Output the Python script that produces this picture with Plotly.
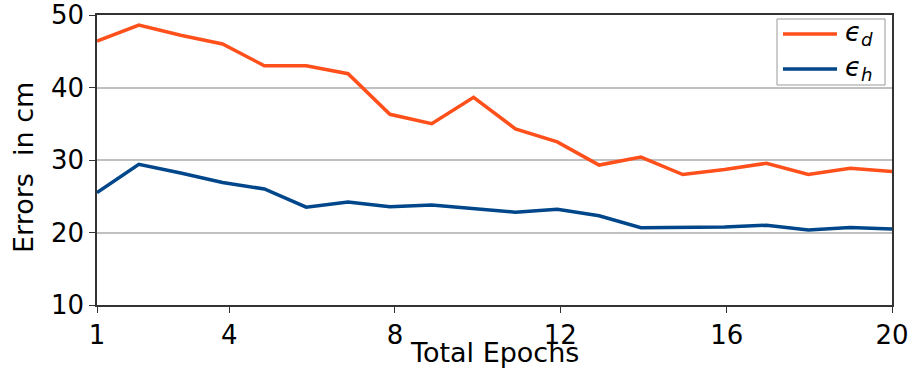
import plotly.graph_objects as go

epochs = list(range(1, 21))
err_d = [46.4, 48.6, 47.2, 46.0, 43.0, 43.0, 41.9, 36.3, 35.0, 38.65,
         34.3, 32.5, 29.3, 30.4, 28.0, 28.7, 29.55, 28.0, 28.85, 28.4]
err_h = [25.5, 29.4, 28.2, 26.9, 26.0, 23.5, 24.2, 23.55, 23.8, 23.3,
         22.8, 23.2, 22.3, 20.65, 20.65, 20.75, 21.0, 20.35, 20.7, 20.5]
series_names = ["<i>ϵ</i><sub><i>d</i></sub>", "<i>ϵ</i><sub><i>h</i></sub>"]
series_colors = ["#FF4F1A", "#00468A"]
x_tick_labels = ["1", "4", "8", "12", "16", "20"]
x_tick_pos = [1, 4.16, 8.12, 12.07, 16.05, 20]
y_ticks = [10, 20, 30, 40, 50]
x_title = "Total Epochs"
y_title = "Errors  in cm"

FONT = "DejaVu Sans"
W, H = 915, 374
L, R, T, B = 97, 892, 15, 305


def px(xp):
    return (xp - L) / (R - L)


def py(yp):
    return 1 - (yp - T) / (B - T)


fig = go.Figure()
for vals, name, col in zip([err_d, err_h], series_names, series_colors):
    fig.add_trace(go.Scatter(x=epochs, y=vals, mode="lines",
                             line=dict(color=col, width=3.5),
                             name=name, showlegend=False, hoverinfo="skip"))

# manual legend (matplotlib style)
shapes = [dict(type="rect", xref="paper", yref="paper",
               x0=px(777), x1=px(885), y0=py(85), y1=py(19),
               line=dict(color="#999999", width=1), fillcolor="white",
               layer="above")]
annotations = []
for i, (name, col) in enumerate(zip(series_names, series_colors)):
    yy = 34 + i * 35
    shapes.append(dict(type="line", xref="paper", yref="paper",
                       x0=px(783), x1=px(837), y0=py(yy), y1=py(yy),
                       line=dict(color=col, width=3.5), layer="above"))
    annotations.append(dict(xref="paper", yref="paper", x=px(843), y=py(yy - 1),
                            xanchor="left", yanchor="middle", showarrow=False,
                            text=name, font=dict(family=FONT, size=26, color="black")))

# axis titles as annotations for precise placement
annotations.append(dict(xref="paper", yref="paper", x=0.5, y=py(352.5),
                        xanchor="center", yanchor="middle", showarrow=False,
                        text=x_title, font=dict(family=FONT, size=27, color="black")))
annotations.append(dict(xref="paper", yref="paper", x=px(23), y=py(168),
                        xanchor="center", yanchor="middle", showarrow=False,
                        textangle=-90,
                        text=y_title, font=dict(family=FONT, size=27, color="black")))

fig.update_layout(
    width=W, height=H,
    margin=dict(l=L, r=W - R, t=T, b=H - B, autoexpand=False),
    plot_bgcolor="white", paper_bgcolor="white",
    font=dict(family=FONT, size=26, color="black"),
    showlegend=False,
    shapes=shapes, annotations=annotations,
    xaxis=dict(range=[1, 20], tickmode="array", tickvals=x_tick_pos,
               ticktext=x_tick_labels, ticks="outside", ticklen=6,
               tickcolor="#333333", showgrid=False, zeroline=False,
               showline=True, linecolor="#333333", linewidth=1.5, mirror=True,
               automargin=False, tickfont=dict(size=26)),
    yaxis=dict(range=[10, 50], tickmode="array", tickvals=y_ticks,
               ticks="outside", ticklen=6, tickcolor="#333333",
               showgrid=True, gridcolor="#c0c0c0", gridwidth=1.5,
               zeroline=False, showline=True, linecolor="#333333",
               linewidth=1.5, mirror=True, automargin=False,
               tickfont=dict(size=26)),
)

fig.write_html("out.html", config={"displayModeBar": False},
               post_script="document.body.style.margin='0';document.body.style.overflow='hidden';")
